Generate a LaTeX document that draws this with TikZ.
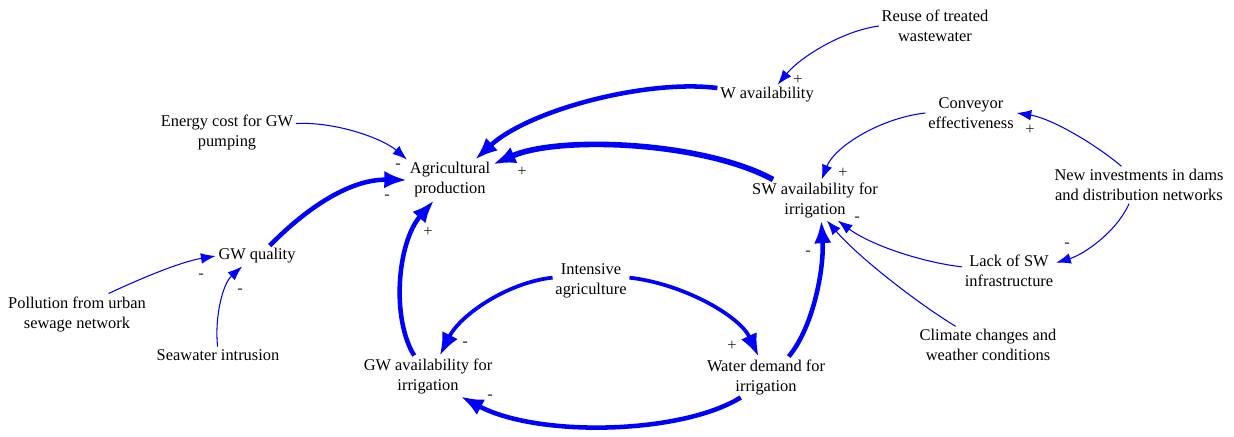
\documentclass[tikz,border=0pt]{standalone}
\usepackage{fontspec}
\setmainfont{Liberation Serif}
\usetikzlibrary{arrows.meta}

\begin{document}
\begin{tikzpicture}[x=0.75pt,y=-0.75pt,
  var/.style={align=center,inner sep=2pt,text=black,font=\fontsize{12.3}{15}\selectfont},
  sign/.style={inner sep=0pt,text=black!85,font=\fontsize{12.3}{15}\selectfont},
  strong/.style={draw=blue,line width=3.4pt,-{Latex[length=17pt,width=13pt]}},
  weak/.style={draw=blue,line width=0.8pt,-{Latex[length=11pt,width=8pt]}}]
\useasboundingbox (0,0) rectangle (1234,436);

\node[var] (reuse) at (935,26) {Reuse of treated\\wastewater};
\node[var] (wav) at (767,95) {W availability};
\node[var] (energy) at (227,132) {Energy cost for GW\\pumping};
\node[var] (agri) at (450,180) {Agricultural\\production};
\node[var] (conv) at (971,113) {Conveyor\\effectiveness};
\node[var] (swa) at (815,200) {SW availability for\\irrigation};
\node[var] (newinv) at (1139,185) {New investments in dams\\and distribution networks};
\node[var] (gwq) at (257,256) {GW quality};
\node[var] (lack) at (1009,271) {Lack of SW\\infrastructure};
\node[var] (inten) at (591,281) {Intensive\\agriculture};
\node[var] (pollu) at (77,314) {Pollution from urban\\sewage network};
\node[var] (clim) at (988,345) {Climate changes and\\weather conditions};
\node[var] (seaw) at (218,355) {Seawater intrusion};
\node[var] (gwa) at (428,376) {GW availability for\\irrigation};
\node[var] (wdem) at (766,377) {Water demand for\\irrigation};

% links
\draw[weak] (reuse.west) .. controls +(-37,5) and +(22,-27) .. (wav.44);
\draw[strong] (wav.172) .. controls +(-70,-9) and +(54,-50) .. (agri.39);
\draw[weak] (energy.7) .. controls +(40,-2) and +(-24,-21) .. (agri.north west);
\draw[strong,line width=4.2pt] (swa.154) .. controls +(-70,-38) and +(66,-29) .. (agri.20);
\draw[strong] (gwq.39) .. controls +(30,-31) and +(-61,-1) .. (agri.west);
\draw[strong] (gwa.124) .. controls +(-23,-37) and +(-37,42) .. (agri.232);
\draw[weak] (conv.west) .. controls +(-45,5) and +(13,-33) .. (swa.72);
\draw[weak] (newinv.133) .. controls +(-30,-25) and +(33,5) .. (conv.east);
\draw[weak] (newinv.242) .. controls +(-13,29) and +(27,-8) .. (lack.10);
\draw[weak] (lack.175) .. controls +(-42,-5) and +(32,24) .. (swa.-42);
\draw[weak] (clim.150) .. controls +(-38,-23) and +(32,37) .. (swa.-60);
\draw[strong] (wdem.42) .. controls +(25,-30) and +(3,47) .. (swa.-73);
\draw[strong,line width=2.8pt] (inten.175) .. controls +(-46,5) and +(20,-40) .. (gwa.60);
\draw[strong,line width=2.8pt] (inten.5) .. controls +(53,6) and +(-19,-41) .. (wdem.110);
\draw[strong] (wdem.219) .. controls +(-60,37) and +(77,41) .. (gwa.-32);
\draw[weak] (pollu.33) .. controls +(30,-14) and +(-36,6) .. (gwq.west);
\draw[weak] (seaw.93) .. controls +(-3,-28) and +(-20,18) .. (gwq.-145);

% polarities
\foreach \x/\y/\s [count=\i] in {798/80/+, 398/166/-, 387/197/-, 522/172/+,
  428/232/+, 1030/130/+, 843/173/+, 857/219/-, 808/253/-, 1067/245/-,
  201/276/-, 240/291/-, 465/344/-, 732/346/+, 490/397/-}
  \node[sign] (pol\i) at (\x,\y) {\s};
\end{tikzpicture}
\end{document}
